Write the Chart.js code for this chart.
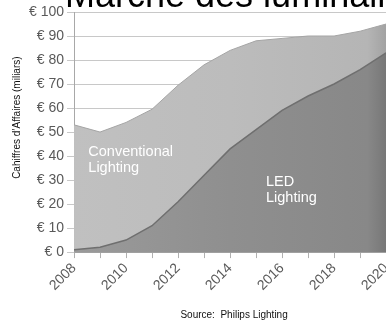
<!DOCTYPE html>
<html>
<head>
<meta charset="utf-8">
<script src="https://cdn.jsdelivr.net/npm/chart.js@4"></script>
<style>
  html, body { margin: 0; padding: 0; background: #fff; overflow: hidden; }
  #wrap { position: absolute; left: 0; top: 0; width: 400px; height: 324px; }
</style>
</head>
<body>
<div id="wrap"><canvas id="chart" width="400" height="324"></canvas></div>
<script>
const years = ["2008", "2009", "2010", "2011", "2012", "2013", "2014", "2015", "2016", "2017", "2018", "2019", "2020"];
// top edge = whole market, lower edge = LED share (milliards d'euros)
const totalMarket = [53, 50, 54, 59.5, 69.5, 78, 84, 88, 89, 90, 90, 92, 95];
const ledLighting = [1, 2, 5, 11, 21, 32, 43, 51, 59, 65, 70, 76, 83];

const FONT = "'Liberation Sans', Arial, sans-serif";
const GREY_TXT = "#595959";

function hGradient(context, stops) {
  const area = context.chart.chartArea;
  if (!area) return stops[0][1];
  const g = context.chart.ctx.createLinearGradient(area.left, 0, area.right, 0);
  stops.forEach(s => g.addColorStop(s[0], s[1]));
  return g;
}

// ---------- TEXTS ON THE SLIDE ----------
const slideText = {
  id: "slideText",
  afterDraw(chart) {
    const { ctx, chartArea, scales: { x, y } } = chart;
    ctx.save();

    // title, cut by the top of the picture
    ctx.fillStyle = "#000";
    ctx.font = "36px " + FONT;
    ctx.textAlign = "left";
    ctx.textBaseline = "alphabetic";
    ctx.fillText("Marché des luminaires", chartArea.left - 9, chartArea.top - 5);

    // area labels
    ctx.fillStyle = "#fff";
    ctx.font = "14.5px " + FONT;
    ctx.fillText("Conventional", x.getPixelForValue(0.55), y.getPixelForValue(40));
    ctx.fillText("Lighting", x.getPixelForValue(0.55), y.getPixelForValue(33.5));
    ctx.fillText("LED", x.getPixelForValue(7.38), y.getPixelForValue(27.5));
    ctx.fillText("Lighting", x.getPixelForValue(7.38), y.getPixelForValue(21));

    // y axis title
    ctx.fillStyle = "#111";
    ctx.font = "10px " + FONT;
    ctx.translate(17, y.getPixelForValue(56));
    ctx.rotate(-Math.PI / 2);
    ctx.textAlign = "center";
    ctx.textBaseline = "middle";
    ctx.fillText("Cahiffres d’Affaires (miliars)", 0, 0);
    ctx.restore();

    // source
    ctx.save();
    ctx.fillStyle = "#111";
    ctx.font = "10px " + FONT;
    ctx.textAlign = "center";
    ctx.textBaseline = "middle";
    ctx.fillText("Source:  Philips Lighting", (chartArea.left + chartArea.right) / 2 + 4, chart.height - 9);
    ctx.restore();
  }
};

new Chart(document.getElementById("chart"), {
  type: "line",
  data: {
    labels: years,
    datasets: [
      {
        label: "LED Lighting",
        data: ledLighting,
        fill: "origin",
        borderColor: "#6f6f6f",
        borderWidth: 1.5,
        backgroundColor: c => hGradient(c, [[0, "#9a9a9a"], [0.5, "#8f8f8f"], [0.94, "#888888"], [1, "#777777"]])
      },
      {
        label: "Conventional Lighting",
        data: totalMarket,
        fill: "-1",
        borderColor: "#a5a5a5",
        borderWidth: 1,
        backgroundColor: c => hGradient(c, [[0, "#c0c0c0"], [0.5, "#bcbcbc"], [0.94, "#b5b5b5"], [1, "#a2a2a2"]])
      }
    ]
  },
  options: {
    responsive: false,
    animation: false,
    layout: { padding: { left: 26, top: 12, right: 0, bottom: 28 } },
    elements: { point: { radius: 0 }, line: { tension: 0 } },
    plugins: { legend: { display: false }, tooltip: { enabled: false } },
    scales: {
      x: {
        grid: { drawOnChartArea: false, drawTicks: true, tickLength: 6, color: "#b0b0b0" },
        border: { color: "#a0a0a0" },
        ticks: {
          autoSkip: false, maxRotation: 45, minRotation: 45, padding: 2,
          color: GREY_TXT, font: { size: 14, family: FONT },
          callback: (v, i) => (i % 2 === 0 ? years[i] : "")
        }
      },
      y: {
        min: 0,
        max: 100,
        grid: { color: "#c8c8c8", tickLength: 7 },
        border: { color: "#a8a8a8" },
        ticks: {
          stepSize: 10, padding: 3,
          color: GREY_TXT, font: { size: 14, family: FONT },
          callback: v => "€ " + v
        }
      }
    }
  },
  plugins: [slideText]
});
</script>
</body>
</html>
